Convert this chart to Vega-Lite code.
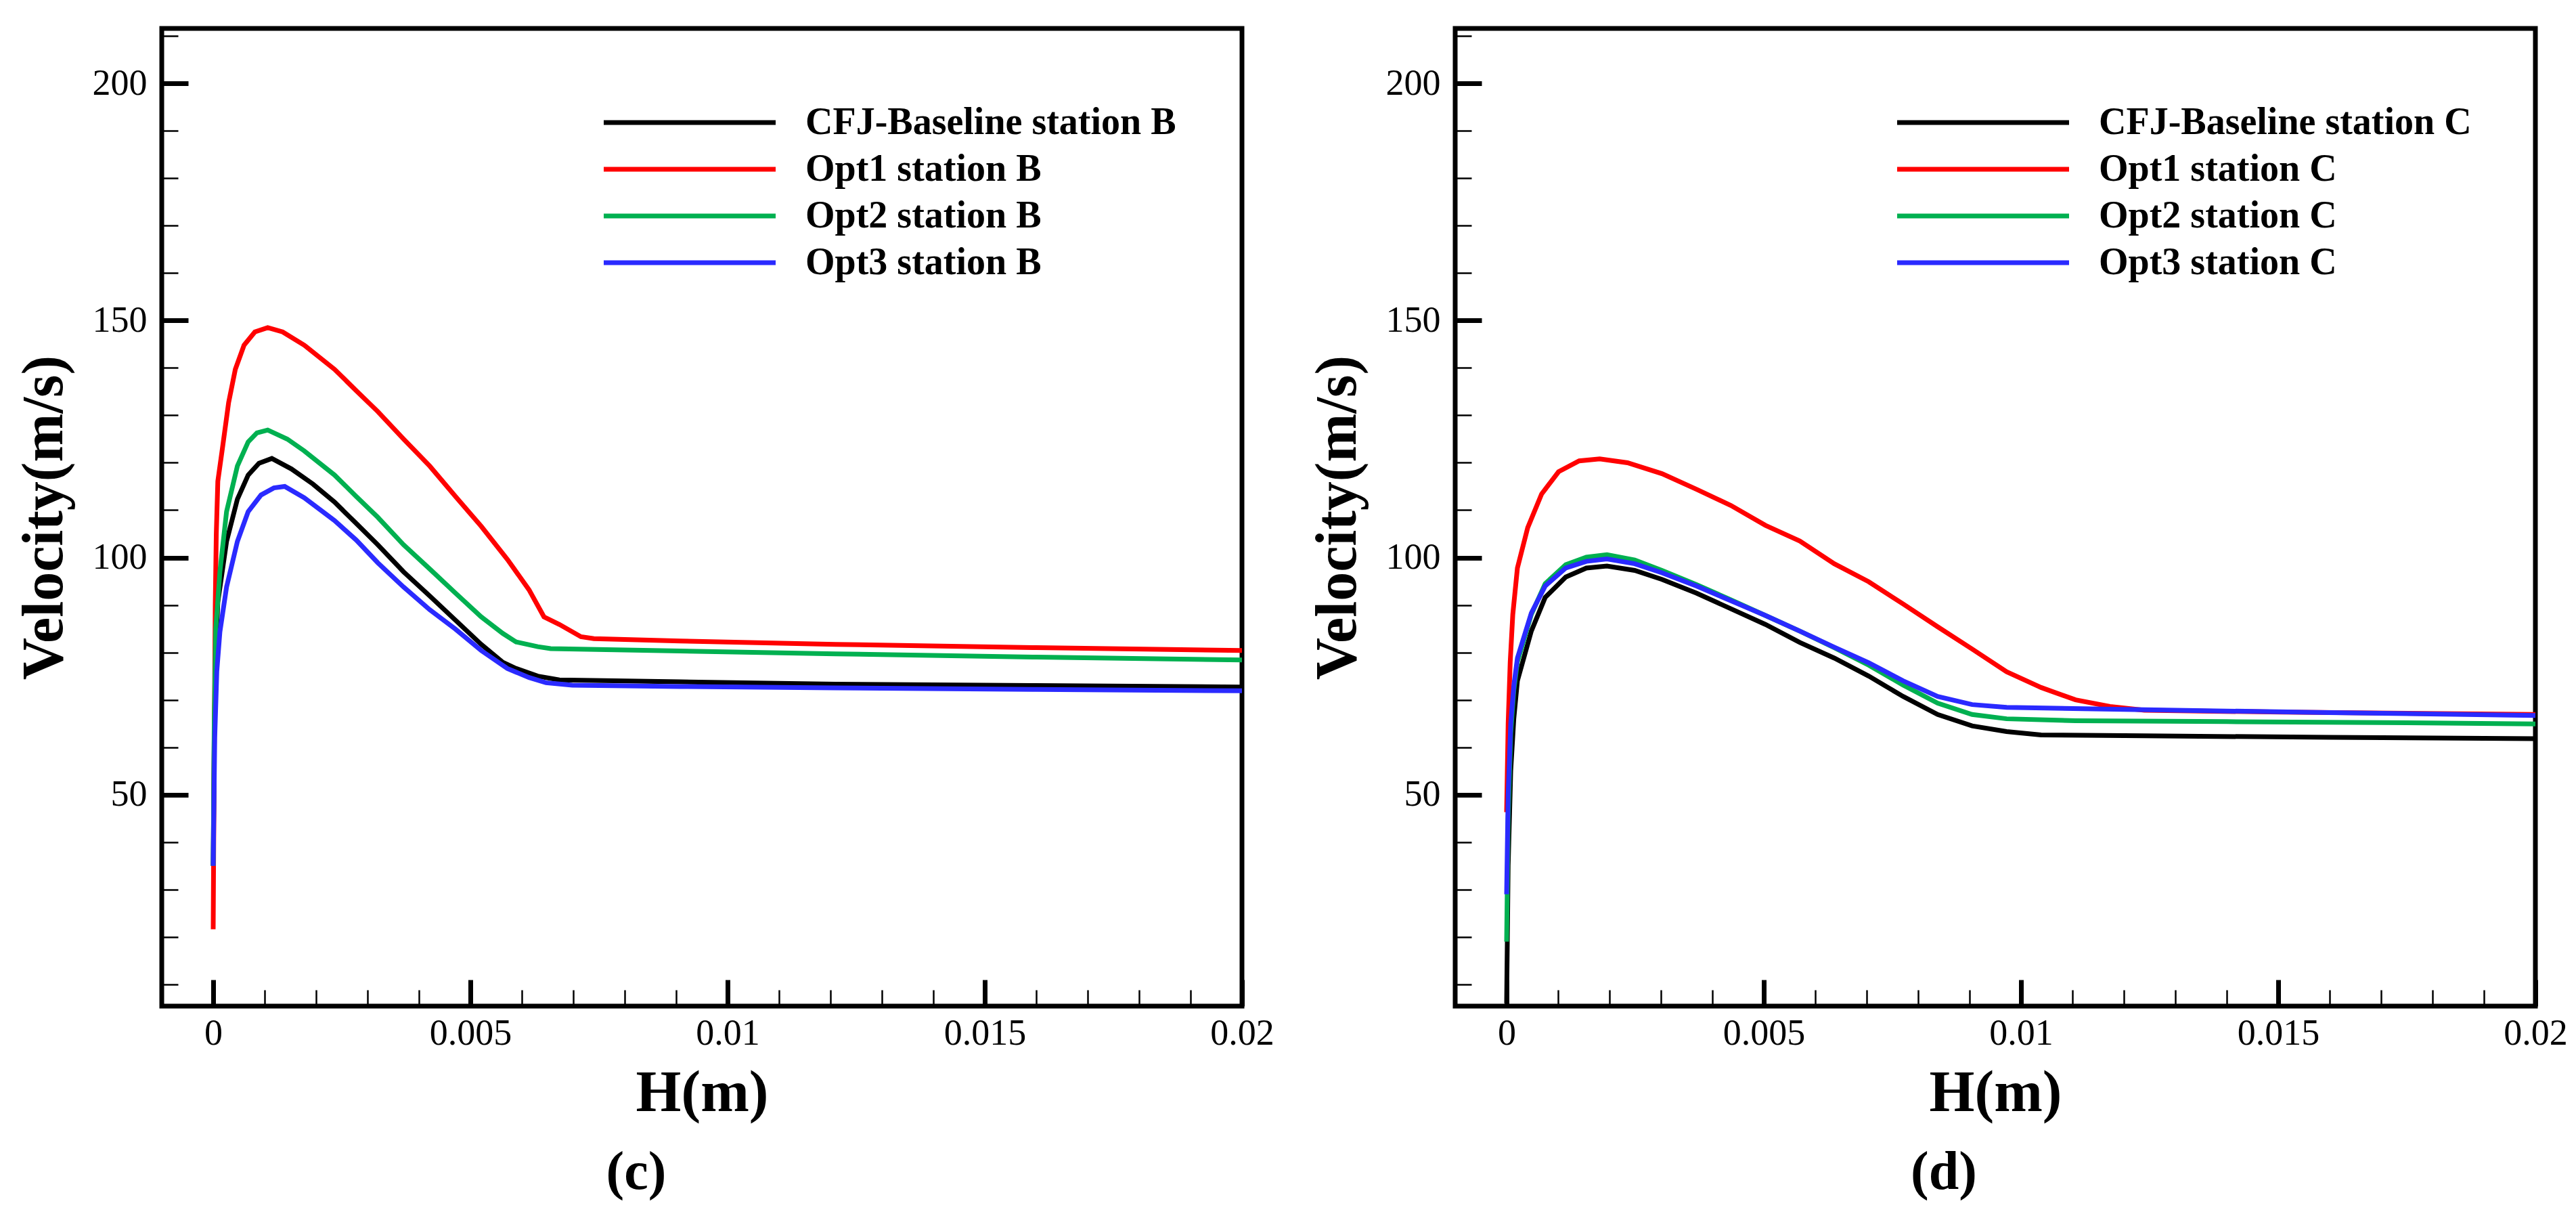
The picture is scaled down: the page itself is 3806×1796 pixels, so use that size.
{
  "$schema": "https://vega.github.io/schema/vega-lite/v6.json",
  "background": "white",
  "padding": {"left": 18, "top": 22, "right": 10, "bottom": 10},
  "config": {
    "view": {"stroke": "black", "strokeWidth": 7},
    "font": "Liberation Serif",
    "axis": {
      "domain": false,
      "grid": false,
      "tickColor": "black",
      "labelColor": "black",
      "labelFont": "Liberation Serif",
      "labelFontSize": 54,
      "labelFlush": false,
      "labelOverlap": false,
      "titleFont": "Liberation Serif",
      "titleFontSize": 86,
      "titleFontWeight": "bold",
      "titleColor": "black"
    },
    "legend": {
      "orient": "none",
      "legendX": 751,
      "legendY": 110,
      "title": null,
      "symbolType": "M-5,0H5",
      "symbolSize": 2581,
      "symbolStrokeWidth": 7,
      "labelFont": "Liberation Serif",
      "labelFontWeight": "bold",
      "labelFontSize": 56,
      "labelColor": "black",
      "labelOffset": 142,
      "labelLimit": 0,
      "rowPadding": 12,
      "padding": 0
    },
    "title": {"font": "Liberation Serif", "fontSize": 80, "fontWeight": "bold", "color": "black"}
  },
  "datasets": {
    "B": [
      {"s": "CFJ-Baseline station B", "h": 0, "v": 35},
      {"s": "CFJ-Baseline station B", "h": 0.00002, "v": 62},
      {"s": "CFJ-Baseline station B", "h": 0.00005, "v": 80},
      {"s": "CFJ-Baseline station B", "h": 0.00009, "v": 90.6},
      {"s": "CFJ-Baseline station B", "h": 0.00026, "v": 103.4},
      {"s": "CFJ-Baseline station B", "h": 0.00047, "v": 112.3},
      {"s": "CFJ-Baseline station B", "h": 0.00068, "v": 117.4},
      {"s": "CFJ-Baseline station B", "h": 0.00089, "v": 119.9},
      {"s": "CFJ-Baseline station B", "h": 0.00114, "v": 120.9},
      {"s": "CFJ-Baseline station B", "h": 0.00152, "v": 118.7},
      {"s": "CFJ-Baseline station B", "h": 0.00194, "v": 115.5},
      {"s": "CFJ-Baseline station B", "h": 0.00236, "v": 111.7},
      {"s": "CFJ-Baseline station B", "h": 0.00278, "v": 107.2},
      {"s": "CFJ-Baseline station B", "h": 0.0032, "v": 102.7},
      {"s": "CFJ-Baseline station B", "h": 0.0037, "v": 97.0},
      {"s": "CFJ-Baseline station B", "h": 0.00421, "v": 91.9},
      {"s": "CFJ-Baseline station B", "h": 0.00471, "v": 86.8},
      {"s": "CFJ-Baseline station B", "h": 0.00521, "v": 81.7},
      {"s": "CFJ-Baseline station B", "h": 0.00563, "v": 77.9},
      {"s": "CFJ-Baseline station B", "h": 0.00589, "v": 76.6},
      {"s": "CFJ-Baseline station B", "h": 0.00631, "v": 75.0},
      {"s": "CFJ-Baseline station B", "h": 0.00673, "v": 74.2},
      {"s": "CFJ-Baseline station B", "h": 0.00908, "v": 73.8},
      {"s": "CFJ-Baseline station B", "h": 0.0121, "v": 73.3},
      {"s": "CFJ-Baseline station B", "h": 0.016, "v": 73.0},
      {"s": "CFJ-Baseline station B", "h": 0.02, "v": 72.7},
      {"s": "Opt1 station B", "h": 0, "v": 21.6},
      {"s": "Opt1 station B", "h": 0.00002, "v": 60},
      {"s": "Opt1 station B", "h": 0.00004, "v": 90},
      {"s": "Opt1 station B", "h": 0.00006, "v": 105},
      {"s": "Opt1 station B", "h": 0.00009, "v": 116.1},
      {"s": "Opt1 station B", "h": 0.00018, "v": 123.1},
      {"s": "Opt1 station B", "h": 0.0003, "v": 132.7},
      {"s": "Opt1 station B", "h": 0.00043, "v": 139.7},
      {"s": "Opt1 station B", "h": 0.0006, "v": 144.8},
      {"s": "Opt1 station B", "h": 0.00081, "v": 147.6},
      {"s": "Opt1 station B", "h": 0.00106, "v": 148.5},
      {"s": "Opt1 station B", "h": 0.00135, "v": 147.6},
      {"s": "Opt1 station B", "h": 0.00177, "v": 144.8},
      {"s": "Opt1 station B", "h": 0.00236, "v": 139.7},
      {"s": "Opt1 station B", "h": 0.00278, "v": 135.2},
      {"s": "Opt1 station B", "h": 0.0032, "v": 130.8},
      {"s": "Opt1 station B", "h": 0.0037, "v": 125.0},
      {"s": "Opt1 station B", "h": 0.00421, "v": 119.3},
      {"s": "Opt1 station B", "h": 0.00471, "v": 112.9},
      {"s": "Opt1 station B", "h": 0.00521, "v": 106.6},
      {"s": "Opt1 station B", "h": 0.00572, "v": 99.6},
      {"s": "Opt1 station B", "h": 0.00614, "v": 93.2},
      {"s": "Opt1 station B", "h": 0.00643, "v": 87.5},
      {"s": "Opt1 station B", "h": 0.00673, "v": 85.9},
      {"s": "Opt1 station B", "h": 0.00715, "v": 83.3},
      {"s": "Opt1 station B", "h": 0.0074, "v": 82.9},
      {"s": "Opt1 station B", "h": 0.00908, "v": 82.4},
      {"s": "Opt1 station B", "h": 0.0121, "v": 81.7},
      {"s": "Opt1 station B", "h": 0.016, "v": 81.0},
      {"s": "Opt1 station B", "h": 0.02, "v": 80.4},
      {"s": "Opt2 station B", "h": 0, "v": 35},
      {"s": "Opt2 station B", "h": 0.00002, "v": 65},
      {"s": "Opt2 station B", "h": 0.00005, "v": 85},
      {"s": "Opt2 station B", "h": 0.00013, "v": 97.0},
      {"s": "Opt2 station B", "h": 0.00026, "v": 109.7},
      {"s": "Opt2 station B", "h": 0.00047, "v": 119.3},
      {"s": "Opt2 station B", "h": 0.00068, "v": 124.4},
      {"s": "Opt2 station B", "h": 0.00085, "v": 126.3},
      {"s": "Opt2 station B", "h": 0.00106, "v": 126.9},
      {"s": "Opt2 station B", "h": 0.00144, "v": 125.0},
      {"s": "Opt2 station B", "h": 0.00177, "v": 122.5},
      {"s": "Opt2 station B", "h": 0.00236, "v": 117.4},
      {"s": "Opt2 station B", "h": 0.00278, "v": 112.9},
      {"s": "Opt2 station B", "h": 0.0032, "v": 108.5},
      {"s": "Opt2 station B", "h": 0.0037, "v": 102.7},
      {"s": "Opt2 station B", "h": 0.00421, "v": 97.6},
      {"s": "Opt2 station B", "h": 0.00471, "v": 92.5},
      {"s": "Opt2 station B", "h": 0.00521, "v": 87.5},
      {"s": "Opt2 station B", "h": 0.00563, "v": 84.0},
      {"s": "Opt2 station B", "h": 0.00589, "v": 82.2},
      {"s": "Opt2 station B", "h": 0.00631, "v": 81.2},
      {"s": "Opt2 station B", "h": 0.00656, "v": 80.8},
      {"s": "Opt2 station B", "h": 0.00908, "v": 80.3},
      {"s": "Opt2 station B", "h": 0.0121, "v": 79.7},
      {"s": "Opt2 station B", "h": 0.016, "v": 79.0},
      {"s": "Opt2 station B", "h": 0.02, "v": 78.4},
      {"s": "Opt3 station B", "h": 0, "v": 35},
      {"s": "Opt3 station B", "h": 0.00003, "v": 62},
      {"s": "Opt3 station B", "h": 0.00007, "v": 76},
      {"s": "Opt3 station B", "h": 0.00013, "v": 84.3},
      {"s": "Opt3 station B", "h": 0.00026, "v": 93.8},
      {"s": "Opt3 station B", "h": 0.00047, "v": 103.4},
      {"s": "Opt3 station B", "h": 0.00068, "v": 109.7},
      {"s": "Opt3 station B", "h": 0.00093, "v": 113.2},
      {"s": "Opt3 station B", "h": 0.00118, "v": 114.7},
      {"s": "Opt3 station B", "h": 0.00139, "v": 115.0},
      {"s": "Opt3 station B", "h": 0.00177, "v": 112.6},
      {"s": "Opt3 station B", "h": 0.00236, "v": 107.8},
      {"s": "Opt3 station B", "h": 0.00278, "v": 103.7},
      {"s": "Opt3 station B", "h": 0.0032, "v": 98.9},
      {"s": "Opt3 station B", "h": 0.0037, "v": 93.8},
      {"s": "Opt3 station B", "h": 0.00421, "v": 89.0},
      {"s": "Opt3 station B", "h": 0.00471, "v": 84.9},
      {"s": "Opt3 station B", "h": 0.00521, "v": 80.4},
      {"s": "Opt3 station B", "h": 0.00572, "v": 76.6},
      {"s": "Opt3 station B", "h": 0.00614, "v": 74.7},
      {"s": "Opt3 station B", "h": 0.00647, "v": 73.6},
      {"s": "Opt3 station B", "h": 0.00698, "v": 73.1},
      {"s": "Opt3 station B", "h": 0.00908, "v": 72.8},
      {"s": "Opt3 station B", "h": 0.0121, "v": 72.5},
      {"s": "Opt3 station B", "h": 0.016, "v": 72.2},
      {"s": "Opt3 station B", "h": 0.02, "v": 71.9}
    ],
    "C": [
      {"s": "CFJ-Baseline station C", "h": 0, "v": 6},
      {"s": "CFJ-Baseline station C", "h": 0.00003, "v": 35},
      {"s": "CFJ-Baseline station C", "h": 0.00008, "v": 55},
      {"s": "CFJ-Baseline station C", "h": 0.00014, "v": 66},
      {"s": "CFJ-Baseline station C", "h": 0.00021, "v": 74.0},
      {"s": "CFJ-Baseline station C", "h": 0.00048, "v": 84.5},
      {"s": "CFJ-Baseline station C", "h": 0.00075, "v": 91.6},
      {"s": "CFJ-Baseline station C", "h": 0.00115, "v": 95.9},
      {"s": "CFJ-Baseline station C", "h": 0.00155, "v": 97.8},
      {"s": "CFJ-Baseline station C", "h": 0.00195, "v": 98.2},
      {"s": "CFJ-Baseline station C", "h": 0.00249, "v": 97.3},
      {"s": "CFJ-Baseline station C", "h": 0.00302, "v": 95.4},
      {"s": "CFJ-Baseline station C", "h": 0.00369, "v": 92.5},
      {"s": "CFJ-Baseline station C", "h": 0.00436, "v": 89.2},
      {"s": "CFJ-Baseline station C", "h": 0.00503, "v": 85.9},
      {"s": "CFJ-Baseline station C", "h": 0.0057, "v": 82.1},
      {"s": "CFJ-Baseline station C", "h": 0.00637, "v": 78.8},
      {"s": "CFJ-Baseline station C", "h": 0.00704, "v": 75.0},
      {"s": "CFJ-Baseline station C", "h": 0.00771, "v": 70.7},
      {"s": "CFJ-Baseline station C", "h": 0.00838, "v": 66.9},
      {"s": "CFJ-Baseline station C", "h": 0.00905, "v": 64.5},
      {"s": "CFJ-Baseline station C", "h": 0.00972, "v": 63.3},
      {"s": "CFJ-Baseline station C", "h": 0.01039, "v": 62.6},
      {"s": "CFJ-Baseline station C", "h": 0.0124, "v": 62.4},
      {"s": "CFJ-Baseline station C", "h": 0.016, "v": 62.1},
      {"s": "CFJ-Baseline station C", "h": 0.02, "v": 61.8},
      {"s": "Opt1 station C", "h": 0, "v": 46.3},
      {"s": "Opt1 station C", "h": 0.00003, "v": 65},
      {"s": "Opt1 station C", "h": 0.00007, "v": 78},
      {"s": "Opt1 station C", "h": 0.00012, "v": 88},
      {"s": "Opt1 station C", "h": 0.00021, "v": 97.8},
      {"s": "Opt1 station C", "h": 0.00041, "v": 106.3},
      {"s": "Opt1 station C", "h": 0.00068, "v": 113.4},
      {"s": "Opt1 station C", "h": 0.00101, "v": 118.1},
      {"s": "Opt1 station C", "h": 0.00141, "v": 120.4},
      {"s": "Opt1 station C", "h": 0.00181, "v": 120.8},
      {"s": "Opt1 station C", "h": 0.00235, "v": 120.0},
      {"s": "Opt1 station C", "h": 0.00302, "v": 117.7},
      {"s": "Opt1 station C", "h": 0.00369, "v": 114.4},
      {"s": "Opt1 station C", "h": 0.00436, "v": 111.0},
      {"s": "Opt1 station C", "h": 0.00503, "v": 106.8},
      {"s": "Opt1 station C", "h": 0.0057, "v": 103.5},
      {"s": "Opt1 station C", "h": 0.00637, "v": 98.7},
      {"s": "Opt1 station C", "h": 0.00704, "v": 94.9},
      {"s": "Opt1 station C", "h": 0.00771, "v": 90.2},
      {"s": "Opt1 station C", "h": 0.00838, "v": 85.4},
      {"s": "Opt1 station C", "h": 0.00905, "v": 80.7},
      {"s": "Opt1 station C", "h": 0.00972, "v": 75.9},
      {"s": "Opt1 station C", "h": 0.01039, "v": 72.6},
      {"s": "Opt1 station C", "h": 0.01106, "v": 70.0},
      {"s": "Opt1 station C", "h": 0.01173, "v": 68.6},
      {"s": "Opt1 station C", "h": 0.0124, "v": 67.8},
      {"s": "Opt1 station C", "h": 0.01508, "v": 67.4},
      {"s": "Opt1 station C", "h": 0.02, "v": 66.9},
      {"s": "Opt2 station C", "h": 0, "v": 19},
      {"s": "Opt2 station C", "h": 0.00003, "v": 45},
      {"s": "Opt2 station C", "h": 0.00008, "v": 63},
      {"s": "Opt2 station C", "h": 0.00014, "v": 72},
      {"s": "Opt2 station C", "h": 0.00021, "v": 78},
      {"s": "Opt2 station C", "h": 0.00048, "v": 88},
      {"s": "Opt2 station C", "h": 0.00075, "v": 94.5},
      {"s": "Opt2 station C", "h": 0.00115, "v": 98.5},
      {"s": "Opt2 station C", "h": 0.00155, "v": 100.1},
      {"s": "Opt2 station C", "h": 0.00195, "v": 100.6},
      {"s": "Opt2 station C", "h": 0.00249, "v": 99.5},
      {"s": "Opt2 station C", "h": 0.00302, "v": 97.3},
      {"s": "Opt2 station C", "h": 0.00369, "v": 94.3},
      {"s": "Opt2 station C", "h": 0.00436, "v": 91.1},
      {"s": "Opt2 station C", "h": 0.00503, "v": 87.8},
      {"s": "Opt2 station C", "h": 0.0057, "v": 84.5},
      {"s": "Opt2 station C", "h": 0.00637, "v": 81.0},
      {"s": "Opt2 station C", "h": 0.00704, "v": 77.3},
      {"s": "Opt2 station C", "h": 0.00771, "v": 73.1},
      {"s": "Opt2 station C", "h": 0.00838, "v": 69.3},
      {"s": "Opt2 station C", "h": 0.00905, "v": 66.9},
      {"s": "Opt2 station C", "h": 0.00972, "v": 66.0},
      {"s": "Opt2 station C", "h": 0.01106, "v": 65.6},
      {"s": "Opt2 station C", "h": 0.014, "v": 65.4},
      {"s": "Opt2 station C", "h": 0.017, "v": 65.2},
      {"s": "Opt2 station C", "h": 0.02, "v": 64.9},
      {"s": "Opt3 station C", "h": 0, "v": 29},
      {"s": "Opt3 station C", "h": 0.00003, "v": 50},
      {"s": "Opt3 station C", "h": 0.00008, "v": 65},
      {"s": "Opt3 station C", "h": 0.00014, "v": 73},
      {"s": "Opt3 station C", "h": 0.00021, "v": 78.8},
      {"s": "Opt3 station C", "h": 0.00048, "v": 88.3},
      {"s": "Opt3 station C", "h": 0.00075, "v": 94.0},
      {"s": "Opt3 station C", "h": 0.00115, "v": 97.8},
      {"s": "Opt3 station C", "h": 0.00155, "v": 99.2},
      {"s": "Opt3 station C", "h": 0.00195, "v": 99.7},
      {"s": "Opt3 station C", "h": 0.00249, "v": 98.7},
      {"s": "Opt3 station C", "h": 0.00302, "v": 96.8},
      {"s": "Opt3 station C", "h": 0.00369, "v": 94.0},
      {"s": "Opt3 station C", "h": 0.00436, "v": 90.9},
      {"s": "Opt3 station C", "h": 0.00503, "v": 87.8},
      {"s": "Opt3 station C", "h": 0.0057, "v": 84.5},
      {"s": "Opt3 station C", "h": 0.00637, "v": 81.1},
      {"s": "Opt3 station C", "h": 0.00704, "v": 77.8},
      {"s": "Opt3 station C", "h": 0.00771, "v": 74.0},
      {"s": "Opt3 station C", "h": 0.00838, "v": 70.7},
      {"s": "Opt3 station C", "h": 0.00905, "v": 69.0},
      {"s": "Opt3 station C", "h": 0.00972, "v": 68.4},
      {"s": "Opt3 station C", "h": 0.0124, "v": 67.9},
      {"s": "Opt3 station C", "h": 0.016, "v": 67.3},
      {"s": "Opt3 station C", "h": 0.02, "v": 66.7}
    ]
  },
  "bounds": "flush",
  "spacing": 315,
  "resolve": {"scale": {"color": "independent"}, "legend": {"color": "independent"}},
  "hconcat": [
    {
      "width": 1596,
      "height": 1444,
      "data": {"name": "B"},
      "title": {"text": "(c)", "orient": "bottom", "offset": 36, "dx": -97},
      "mark": {"type": "line", "strokeWidth": 7, "clip": true},
      "encoding": {
        "x": {
          "field": "h", "type": "quantitative",
          "scale": {"domain": [-0.001, 0.02], "nice": false, "zero": false},
          "axis": {
            "title": "H(m)",
            "values": [0, 0.001, 0.002, 0.003, 0.004, 0.005, 0.006, 0.007, 0.008, 0.009, 0.01, 0.011, 0.012, 0.013, 0.014, 0.015, 0.016, 0.017, 0.018, 0.019, 0.02],
            "labelExpr": "round(datum.value*1000) % 5 === 0 ? format(datum.value, '~g') : ''",
            "tickSize": {"condition": {"test": "round(datum.value*1000) % 5 === 0", "value": -39}, "value": -24},
            "tickWidth": {"condition": {"test": "round(datum.value*1000) % 5 === 0", "value": 7}, "value": 2.5},
            "labelPadding": 52,
            "titlePadding": 4
          }
        },
        "y": {
          "field": "v", "type": "quantitative",
          "scale": {"domain": [5.4, 211.6], "nice": false, "zero": false},
          "axis": {
            "title": "Velocity(m/s)",
            "values": [10, 20, 30, 40, 50, 60, 70, 80, 90, 100, 110, 120, 130, 140, 150, 160, 170, 180, 190, 200, 210],
            "labelExpr": "datum.value % 50 === 0 ? format(datum.value, 'd') : ''",
            "tickSize": {"condition": {"test": "datum.value % 50 === 0", "value": -39}, "value": -24},
            "tickWidth": {"condition": {"test": "datum.value % 50 === 0", "value": 7}, "value": 2.5},
            "labelPadding": 61,
            "titlePadding": 27
          }
        },
        "color": {
          "field": "s", "type": "nominal",
          "scale": {"domain": ["CFJ-Baseline station B", "Opt1 station B", "Opt2 station B", "Opt3 station B"], "range": ["#000000", "#ff0000", "#00b050", "#2a2aff"]},
          "legend": {}
        }
      }
    },
    {
      "width": 1596,
      "height": 1444,
      "data": {"name": "C"},
      "title": {"text": "(d)", "orient": "bottom", "offset": 36, "dx": -76},
      "mark": {"type": "line", "strokeWidth": 7, "clip": true},
      "encoding": {
        "x": {
          "field": "h", "type": "quantitative",
          "scale": {"domain": [-0.001, 0.02], "nice": false, "zero": false},
          "axis": {
            "title": "H(m)",
            "values": [0, 0.001, 0.002, 0.003, 0.004, 0.005, 0.006, 0.007, 0.008, 0.009, 0.01, 0.011, 0.012, 0.013, 0.014, 0.015, 0.016, 0.017, 0.018, 0.019, 0.02],
            "labelExpr": "round(datum.value*1000) % 5 === 0 ? format(datum.value, '~g') : ''",
            "tickSize": {"condition": {"test": "round(datum.value*1000) % 5 === 0", "value": -39}, "value": -24},
            "tickWidth": {"condition": {"test": "round(datum.value*1000) % 5 === 0", "value": 7}, "value": 2.5},
            "labelPadding": 52,
            "titlePadding": 4
          }
        },
        "y": {
          "field": "v", "type": "quantitative",
          "scale": {"domain": [5.4, 211.6], "nice": false, "zero": false},
          "axis": {
            "title": "Velocity(m/s)",
            "values": [10, 20, 30, 40, 50, 60, 70, 80, 90, 100, 110, 120, 130, 140, 150, 160, 170, 180, 190, 200, 210],
            "labelExpr": "datum.value % 50 === 0 ? format(datum.value, 'd') : ''",
            "tickSize": {"condition": {"test": "datum.value % 50 === 0", "value": -39}, "value": -24},
            "tickWidth": {"condition": {"test": "datum.value % 50 === 0", "value": 7}, "value": 2.5},
            "labelPadding": 61,
            "titlePadding": 27
          }
        },
        "color": {
          "field": "s", "type": "nominal",
          "scale": {"domain": ["CFJ-Baseline station C", "Opt1 station C", "Opt2 station C", "Opt3 station C"], "range": ["#000000", "#ff0000", "#00b050", "#2a2aff"]},
          "legend": {}
        }
      }
    }
  ]
}
